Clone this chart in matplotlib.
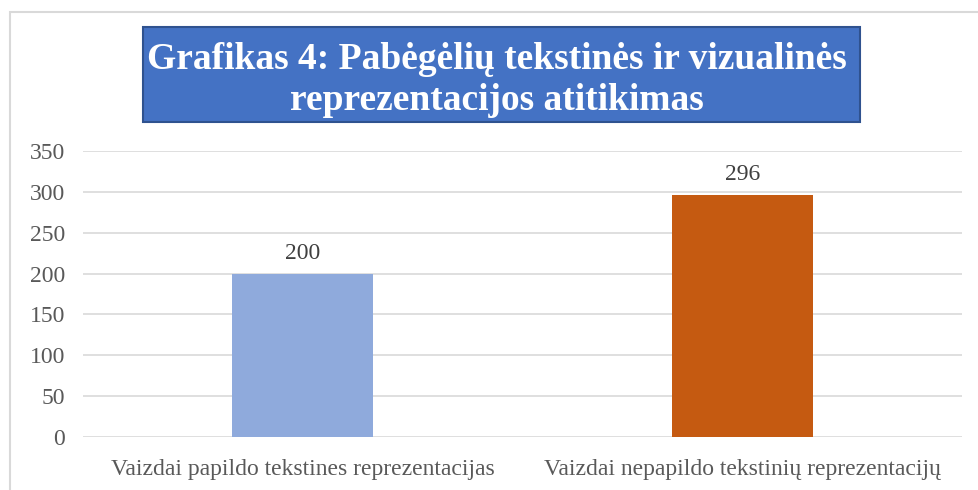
import matplotlib.pyplot as plt
from matplotlib.patches import Rectangle

# Duomenys
kategorijos = ['Vaizdai papildo tekstines reprezentacijas',
               'Vaizdai nepapildo tekstinių reprezentacijų']
reiksmes = [200, 296]
spalvos = ['#8FAADC', '#C55A11']
y_ticks = [0, 50, 100, 150, 200, 250, 300, 350]

plt.rcParams['font.family'] = ['Liberation Serif', 'DejaVu Serif']

fig = plt.figure(figsize=(9.79, 4.9), dpi=100)

# rėmelis aplink grafiką
fig.patches.append(Rectangle((10 / 979, -0.1), 1.1, 1 - 12 / 490 + 0.1,
                             transform=fig.transFigure, fill=False,
                             edgecolor='#D9D9D9', linewidth=1.5))

ax = fig.add_axes([83 / 979, 1 - 437 / 490, 879 / 979, 286 / 490])
x = range(len(kategorijos))
ax.bar(x, reiksmes, width=0.32, color=spalvos, zorder=3)
ax.set_xlim(-0.5, 1.5)
ax.set_ylim(0, 350)
ax.set_yticks(y_ticks)
ax.set_xticks(list(x))
ax.set_xticklabels(kategorijos)
ax.tick_params(axis='both', length=0, labelsize=17, labelcolor='#595959')
ax.tick_params(axis='y', pad=13)
ax.tick_params(axis='x', pad=16)
ax.grid(axis='y', color='#D9D9D9', linewidth=1.2, zorder=0)
for s in ax.spines.values():
    s.set_visible(False)

for i, v in enumerate(reiksmes):
    ax.text(i, v + 12, str(v), ha='center', va='bottom', fontsize=17, color='#404040')

# pavadinimas mėlyname langelyje
fig.text(497 / 979, 1 - 80 / 490,
         'Grafikas 4: Pabėgėlių tekstinės ir vizualinės\nreprezentacijos atitikimas',
         ha='center', va='center', fontsize=27, fontweight='bold', color='white',
         linespacing=1.2)
fig.patches.append(Rectangle((143 / 979, 1 - 122 / 490), 717 / 979, 95 / 490,
                             transform=fig.transFigure, facecolor='#4472C4',
                             edgecolor='#2F528F', linewidth=1.5, zorder=0))

fig.savefig('out.png', dpi=100)
